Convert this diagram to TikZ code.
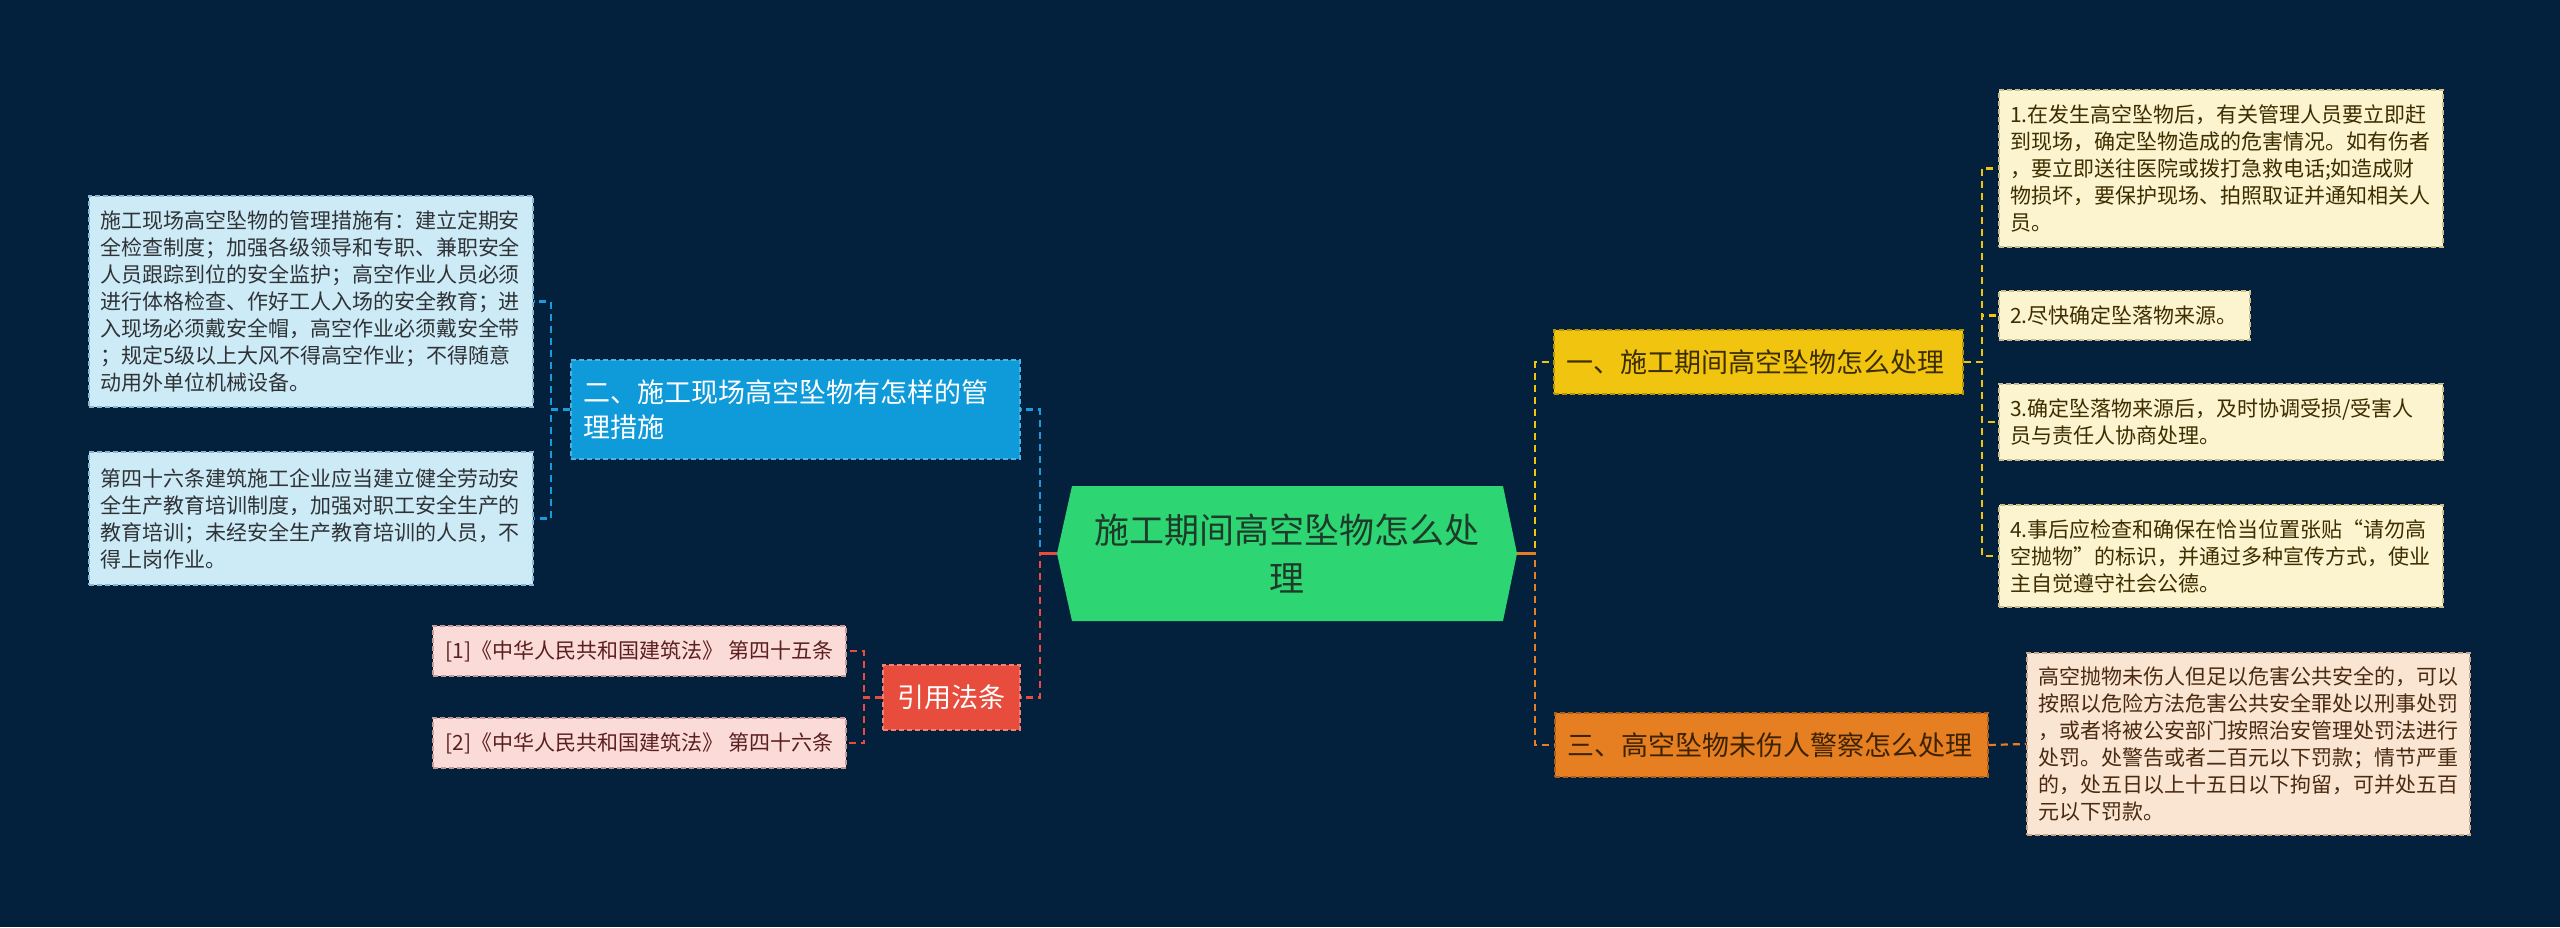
\documentclass[tikz,border=0pt]{standalone}
\usepackage{fontspec}
\setmainfont{Noto Sans CJK SC}
\usetikzlibrary{calc}
\definecolor{bg}{HTML}{03203D}
\definecolor{cgreen}{HTML}{2ED573}
\definecolor{cgreentext}{HTML}{1E3B2A}
\definecolor{cblueC}{HTML}{0F9AD9}
\definecolor{cblueLine}{HTML}{1A9BDD}
\definecolor{lbfill}{HTML}{CDEAF7}
\definecolor{lbdraw}{HTML}{8AB8D0}
\definecolor{lbtext}{HTML}{2F3336}
\definecolor{credC}{HTML}{E74C3C}
\definecolor{rfill}{HTML}{FADBD8}
\definecolor{rdraw}{HTML}{C89A96}
\definecolor{rtext}{HTML}{5C1F1F}
\definecolor{cyelC}{HTML}{F1C40F}
\definecolor{ytext}{HTML}{3D2E00}
\definecolor{yfill}{HTML}{FCF3CF}
\definecolor{ydraw}{HTML}{CDBE8E}
\definecolor{corC}{HTML}{E67E22}
\definecolor{otext}{HTML}{3D2200}
\definecolor{ofill}{HTML}{FAE5D3}
\definecolor{odraw}{HTML}{C9A88C}
\definecolor{oleaftext}{HTML}{4A2A10}
\begin{document}
\begin{tikzpicture}[x=1pt,y=-1pt,
  box/.style={draw, dash pattern=on 5pt off 3pt, line width=1.5pt, inner xsep=12pt, inner ysep=0pt, anchor=center, align=left},
  leaffont/.style={font=\fontsize{21}{27}\selectfont},
  lbleaf/.style={box, leaffont, fill=lbfill, draw=lbdraw, text=lbtext},
  yleaf/.style={box, leaffont, fill=yfill, draw=ydraw, text=ytext},
  oleaf/.style={box, leaffont, fill=ofill, draw=odraw, text=oleaftext},
  rleaf/.style={box, font=\fontsize{21}{27}\selectfont, fill=rfill, draw=rdraw, text=rtext, align=center, inner xsep=0pt},
  mainfont/.style={font=\fontsize{27}{35}\selectfont},
  conn/.style={line width=2.2pt, dash pattern=on 7pt off 5pt},
  stub/.style={line width=2.5pt}
]
\fill[bg] (0,0) rectangle (2560,927);
\useasboundingbox (0,0) rectangle (2560,927);

% central hexagon
\fill[cgreen] (1057,553.5) -- (1072,486) -- (1503,486) -- (1517,553.5) -- (1503,621) -- (1072,621) -- cycle;
\node[minimum width=460pt, minimum height=135pt, inner sep=0pt, align=center, text=cgreentext, font=\fontsize{35}{48}\selectfont] (c) at (1287,553.5) {施工期间高空坠物怎么处\\理};

% main branches
\node[box, mainfont, fill=cblueC, draw=cblueC!75!white, text=white, minimum width=449pt, minimum height=99pt, text width=425pt] (n2) at (795.5,409.5) {二、施工现场高空坠物有怎样的管\\理措施};
\node[box, font=\fontsize{27}{32}\selectfont, fill=credC, draw=credC!70!white, text=white, minimum width=137pt, minimum height=65pt, inner xsep=0pt, align=center] (cite) at (951.5,697.5) {引用法条};
\node[box, mainfont, fill=cyelC, draw=cyelC!75!black, text=ytext, minimum width=409pt, minimum height=64pt, text width=385pt] (n1) at (1758.5,362) {一、施工期间高空坠物怎么处理};
\node[box, mainfont, fill=corC, draw=corC!75!black, text=otext, minimum width=433pt, minimum height=64pt, text width=409pt] (n3) at (1771.5,745) {三、高空坠物未伤人警察怎么处理};

% left leaves
\node[lbleaf, minimum width=444pt, minimum height=211pt, text width=422pt, inner xsep=11pt] (L1) at (311,301.5) {施工现场高空坠物的管理措施有：建立定期安\\全检查制度；加强各级领导和专职、兼职安全\\人员跟踪到位的安全监护；高空作业人员必须\\进行体格检查、作好工人入场的安全教育；进\\入现场必须戴安全帽，高空作业必须戴安全带\\；规定5级以上大风不得高空作业；不得随意\\动用外单位机械设备。};
\node[lbleaf, minimum width=444pt, minimum height=133pt, text width=422pt, inner xsep=11pt] (L2) at (311,518.5) {第四十六条建筑施工企业应当建立健全劳动安\\全生产教育培训制度，加强对职工安全生产的\\教育培训；未经安全生产教育培训的人员，不\\得上岗作业。};

% citation leaves
\node[rleaf, minimum width=413pt, minimum height=50pt] (R1) at (639.5,651) {[1]《中华人民共和国建筑法》 第四十五条};
\node[rleaf, minimum width=413pt, minimum height=50pt] (R2) at (639.5,743) {[2]《中华人民共和国建筑法》 第四十六条};

% right leaves
\node[yleaf, minimum width=444pt, minimum height=157pt, text width=422pt, inner xsep=11pt] (Y1) at (2221,168.5) {1.在发生高空坠物后，有关管理人员要立即赶\\到现场，确定坠物造成的危害情况。如有伤者\\，要立即送往医院或拨打急救电话;如造成财\\物损坏，要保护现场、拍照取证并通知相关人\\员。};
\node[yleaf, minimum width=251pt, minimum height=49pt, text width=229pt, inner xsep=11pt] (Y2) at (2124.5,315.5) {2.尽快确定坠落物来源。};
\node[yleaf, minimum width=444pt, minimum height=76pt, text width=422pt, inner xsep=11pt] (Y3) at (2221,422) {3.确定坠落物来源后，及时协调受损/受害人\\员与责任人协商处理。};
\node[yleaf, minimum width=444pt, minimum height=102pt, text width=422pt, inner xsep=11pt] (Y4) at (2221,556) {4.事后应检查和确保在恰当位置张贴“请勿高\\空抛物”的标识，并通过多种宣传方式，使业\\主自觉遵守社会公德。};
\node[oleaf, minimum width=443pt, minimum height=182pt, text width=421pt, inner xsep=11pt] (O1) at (2248.5,744) {高空抛物未伤人但足以危害公共安全的，可以\\按照以危险方法危害公共安全罪处以刑事处罚\\，或者将被公安部门按照治安管理处罚法进行\\处罚。处警告或者二百元以下罚款；情节严重\\的，处五日以上十五日以下拘留，可并处五百\\元以下罚款。};

% connectors from centre
\draw[conn, cblueLine] (c.west) -- ++(-17,0) |- (n2.east);
\draw[conn, credC] (c.west) -- ++(-17,0) |- (cite.east);
\draw[stub, credC] (c.west) -- ++(-17,0);
\draw[conn, cyelC] (c.east) -- ++(18,0) |- (n1.west);
\draw[conn, corC] (c.east) -- ++(18,0) |- (n3.west);
\draw[stub, corC] (c.east) -- ++(18,0);

% connectors to leaves
\draw[conn, cblueLine] (n2.west) -- ++(-19,0) |- (L1.east);
\draw[conn, cblueLine] (n2.west) -- ++(-19,0) |- (L2.east);
\draw[conn, credC] (cite.west) -- ++(-18,0) |- (R1.east);
\draw[conn, credC] (cite.west) -- ++(-18,0) |- (R2.east);
\draw[conn, cyelC] (n1.east) -- ++(18,0) |- (Y1.west);
\draw[conn, cyelC] (n1.east) -- ++(18,0) |- (Y2.west);
\draw[conn, cyelC] (n1.east) -- ++(18,0) |- (Y3.west);
\draw[conn, cyelC] (n1.east) -- ++(18,0) |- (Y4.west);
\draw[conn, corC] (n3.east) -- (O1.west);
\end{tikzpicture}
\end{document}
